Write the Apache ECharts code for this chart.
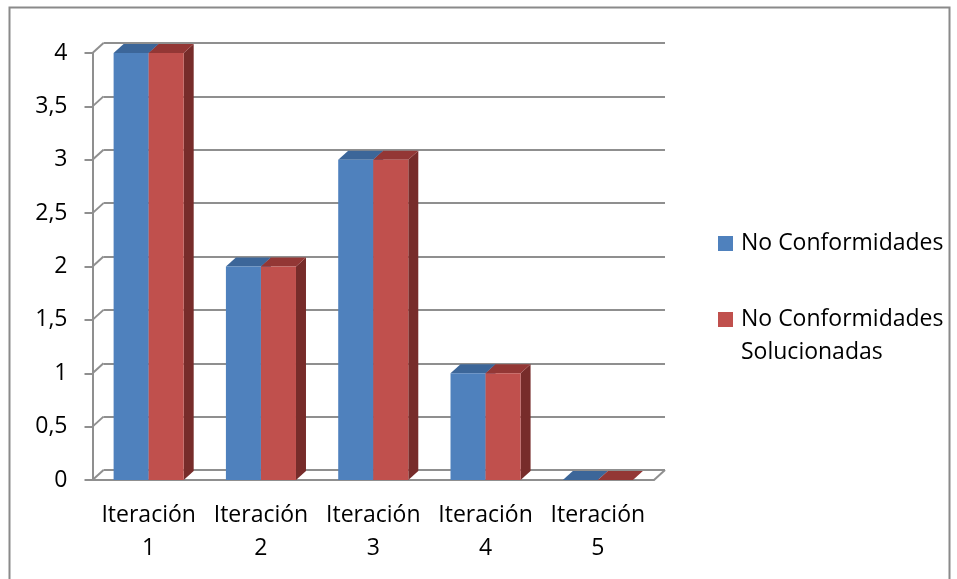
<!DOCTYPE html>
<html>
<head>
<meta charset="utf-8">
<script src="https://cdn.jsdelivr.net/npm/echarts@6/dist/echarts.min.js"></script>
<style>
  html, body { margin: 0; padding: 0; background: #fff; }
  #chart { width: 957px; height: 579px; }
</style>
</head>
<body>
<div id="chart"></div>
<script>
// datos
const categories = ["Iteración\n1", "Iteración\n2", "Iteración\n3", "Iteración\n4", "Iteración\n5"];
const noConformidades = [4, 2, 3, 1, 0];
const solucionadas = [4, 2, 3, 1, 0];
const yTicks = [0, 0.5, 1, 1.5, 2, 2.5, 3, 3.5, 4];

const FONT = "Open Sans";
const FONT_SIZE = 23;
const GRID_COLOR = "#8f8f8f";
// profundidad del efecto 3d
const WALL_DX = 11, WALL_DY = 10;
const BAR_DX = 10, BAR_DY = 9;
const BAR_RATIO = 0.312;

const colors = [
  { front: "#4f81bd", top: "#3c6699", side: "#35598a" },
  { front: "#c0504d", top: "#933735", side: "#772c2a" },
];

const chart = echarts.init(document.getElementById("chart"));

function barRender(sIdx) {
  return function (params, api) {
    const cat = api.value(0);
    const val = api.value(1);
    const top = api.coord([cat, val]);
    const bot = api.coord([cat, 0]);
    const band = api.size([1, 0])[0];
    const w = band * BAR_RATIO;
    const x0 = sIdx === 0 ? top[0] - w : top[0];
    const x1 = x0 + w;
    const c = colors[sIdx];
    return {
      type: "group",
      children: [
        {
          type: "polygon",
          shape: { points: [[x1, top[1]], [x1 + BAR_DX, top[1] - BAR_DY], [x1 + BAR_DX, bot[1] - BAR_DY], [x1, bot[1]]] },
          style: { fill: c.side },
        },
        {
          type: "polygon",
          shape: { points: [[x0, top[1]], [x1, top[1]], [x1 + BAR_DX, top[1] - BAR_DY], [x0 + BAR_DX, top[1] - BAR_DY]] },
          style: { fill: c.top },
        },
        {
          type: "rect",
          shape: { x: x0, y: top[1], width: w, height: bot[1] - top[1] },
          style: { fill: c.front },
        },
      ],
    };
  };
}

let option = {
  animation: false,
  backgroundColor: "#fff",
  graphic: [
    {
      type: "rect",
      shape: { x: 9.5, y: 7.5, width: 940, height: 600 },
      style: { fill: null, stroke: "#8a8a8a", lineWidth: 2 },
      silent: true,
    },
  ],
  legend: [
    {
      data: ["No Conformidades"],
      left: 718,
      top: 232,
      orient: "vertical",
      padding: 0,
      icon: "rect",
      itemWidth: 15,
      itemHeight: 15,
      textStyle: { fontFamily: FONT, fontSize: FONT_SIZE, color: "#000", padding: [0, 0, 0, 3] },
    },
    {
      data: ["No Conformidades Solucionadas"],
      left: 718,
      top: 237,
      orient: "vertical",
      padding: 0,
      icon: "rect",
      itemWidth: 15,
      itemHeight: 15,
      // lineas vacias para que el icono quede junto a la primera linea
      formatter: function () {
        return " \n \nNo Conformidades\nSolucionadas\n ";
      },
      textStyle: { fontFamily: FONT, fontSize: FONT_SIZE, color: "#000", lineHeight: 33, padding: [0, 0, 0, 3] },
    },
  ],
  grid: [
    { left: 92.5, top: 53, width: 561.5, height: 427 },
    { left: 92.5 + WALL_DX, top: 53 - WALL_DY, width: 561.5, height: 427 },
  ],
  xAxis: [
    {
      type: "category",
      gridIndex: 0,
      data: categories,
      axisLine: { lineStyle: { color: GRID_COLOR, width: 2 } },
      axisTick: { length: 7, lineStyle: { color: GRID_COLOR, width: 2 } },
      axisLabel: { fontFamily: FONT, fontSize: FONT_SIZE, color: "#000", lineHeight: 33, margin: 19, interval: 0 },
    },
    {
      type: "category",
      gridIndex: 1,
      data: categories,
      show: false,
    },
  ],
  yAxis: [
    {
      type: "value",
      gridIndex: 0,
      min: 0,
      max: 4,
      interval: 0.5,
      axisLine: { show: true, lineStyle: { color: GRID_COLOR, width: 2 } },
      axisTick: { show: true, length: 8, lineStyle: { color: GRID_COLOR, width: 2 } },
      splitLine: { show: false },
      axisLabel: {
        fontFamily: FONT,
        fontSize: FONT_SIZE,
        color: "#000",
        margin: 25,
        padding: [6, 0, 0, 0],
        formatter: (v) => String(v).replace(".", ","),
      },
    },
    {
      type: "value",
      gridIndex: 1,
      min: 0,
      max: 4,
      interval: 0.5,
      axisLine: { show: false },
      axisTick: { show: false },
      axisLabel: { show: false },
      splitLine: { show: true, lineStyle: { color: GRID_COLOR, width: 2 } },
    },
  ],
  series: [
    {
      // diagonales de la pared izquierda y del suelo
      type: "custom",
      xAxisIndex: 0,
      yAxisIndex: 0,
      silent: true,
      data: yTicks.map((v) => [0, v]),
      encode: { x: 0, y: 1 },
      renderItem: function (params, api) {
        const y = api.coord([0, api.value(1)])[1];
        const x = params.coordSys.x;
        const lines = [
          {
            type: "line",
            shape: { x1: x, y1: y, x2: x + WALL_DX, y2: y - WALL_DY },
            style: { stroke: GRID_COLOR, lineWidth: 2 },
          },
        ];
        if (api.value(1) === 0) {
          const xr = params.coordSys.x + params.coordSys.width;
          lines.push({
            type: "line",
            shape: { x1: xr, y1: y, x2: xr + WALL_DX, y2: y - WALL_DY },
            style: { stroke: GRID_COLOR, lineWidth: 2 },
          });
        }
        return { type: "group", children: lines };
      },
    },
    {
      name: "No Conformidades",
      type: "custom",
      xAxisIndex: 0,
      yAxisIndex: 0,
      itemStyle: { color: colors[0].front },
      data: noConformidades.map((v, i) => [i, v]),
      encode: { x: 0, y: 1 },
      renderItem: barRender(0),
      z: 3,
    },
    {
      name: "No Conformidades Solucionadas",
      type: "custom",
      xAxisIndex: 0,
      yAxisIndex: 0,
      itemStyle: { color: colors[1].front },
      data: solucionadas.map((v, i) => [i, v]),
      encode: { x: 0, y: 1 },
      renderItem: barRender(1),
      z: 4,
    },
  ],
};

chart.setOption(option);
</script>
</body>
</html>
